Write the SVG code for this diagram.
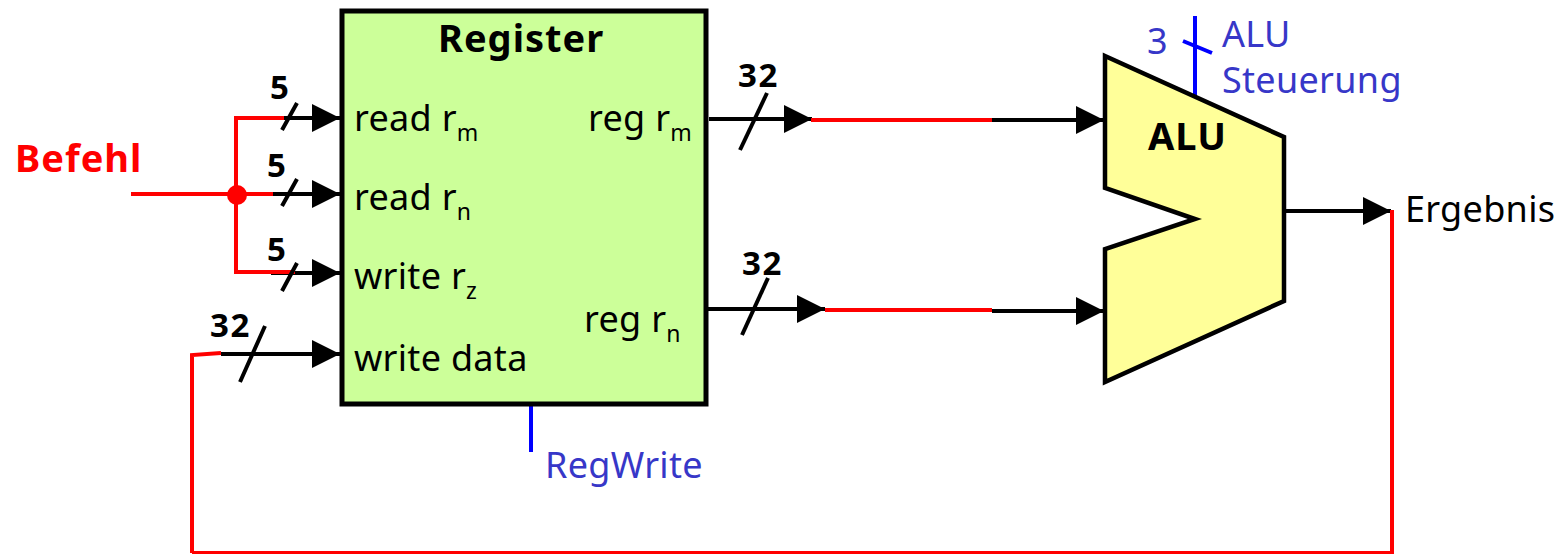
<svg xmlns="http://www.w3.org/2000/svg" width="1557" height="554" viewBox="0 0 1557 554">
<style>
text{font-family:"Noto Sans","DejaVu Sans",sans-serif;font-size:36px;letter-spacing:.3px;fill:#000}
.b{font-size:38px;font-weight:bold;letter-spacing:1px}
.n{font-size:33px;font-weight:bold;letter-spacing:1.5px}
.s{font-size:23px}
.blue{fill:#3737c8}
.red{fill:#f00}
.w{fill:none;stroke:#000;stroke-width:4}
.r{fill:none;stroke:#f00;stroke-width:4}
.u{fill:none;stroke:#00f;stroke-width:4}
</style>
<defs><marker id="a" markerUnits="userSpaceOnUse" markerWidth="28" markerHeight="28" refX="28" refY="14" orient="auto"><path d="M0 0L28 14L0 28Z" fill="#000"/></marker></defs>
<g id="connectors">
<path class="w" d="M271 118H340" marker-end="url(#a)"/>
<path class="w" d="M273 194H340" marker-end="url(#a)"/>
<path class="w" d="M271 273H340" marker-end="url(#a)"/>
<path class="w" d="M221 354H340" marker-end="url(#a)"/>
<path class="r" d="M131 194H273M236 194V118H284M236 194V272H295"/>
<path class="r" d="M192 553V355L221 353"/>
<path class="w" d="M282 130L297 103M282 206L297 179M282 291L297 263M240 382L265 326"/>
<path class="w" d="M709 119H812" marker-end="url(#a)"/>
<path class="r" d="M811 120H992"/>
<path class="w" d="M992 120H1104" marker-end="url(#a)"/>
<path class="w" d="M740 150L767 93"/>
<path class="w" d="M707 309H825" marker-end="url(#a)"/>
<path class="r" d="M825 310H992"/>
<path class="w" d="M992 311H1104" marker-end="url(#a)"/>
<path class="w" d="M742 335L768 278"/>
<path class="w" d="M1283 211H1391" marker-end="url(#a)"/>
<path class="r" d="M1392 210V553H192"/>
<path class="u" d="M1195 16V96M1183 41L1212 53"/>
<path class="u" d="M531 403V452"/>
<circle cx="237" cy="195" r="10" fill="#f00"/>
</g>
<g id="register">
<rect x="342" y="11" width="364" height="393" fill="#ccff99" stroke="#000" stroke-width="5"/>
<text class="b" x="438" y="52">Register</text>
<text x="354" y="131">read r<tspan class="s" dy="10">m</tspan></text>
<text x="354" y="210">read r<tspan class="s" dy="10">n</tspan></text>
<text x="354" y="289">write r<tspan class="s" dy="10">z</tspan></text>
<text x="354" y="371">write data</text>
<text x="588" y="131">reg r<tspan class="s" dy="10">m</tspan></text>
<text x="584" y="332">reg r<tspan class="s" dy="10">n</tspan></text>
</g>
<g id="alu">
<path d="M1105 56L1284 137V301L1105 382V249L1195 219L1105 188Z" fill="#ffff99" stroke="#000" stroke-width="4.5"/>
<text class="b" x="1148" y="150">ALU</text>
</g>
<g id="labels">
<text class="b red" x="15" y="172">Befehl</text>
<text class="n" x="270" y="99">5</text>
<text class="n" x="267" y="177">5</text>
<text class="n" x="267" y="261">5</text>
<text class="n" x="210" y="337">32</text>
<text class="n" x="738" y="87">32</text>
<text class="n" x="742" y="275">32</text>
<text class="blue" x="1147" y="54">3</text>
<text class="blue" x="1222" y="47">ALU</text>
<text class="blue" x="1222" y="93">Steuerung</text>
<text class="blue" x="545" y="478">RegWrite</text>
<text x="1405" y="222">Ergebnis</text>
</g>
</svg>
